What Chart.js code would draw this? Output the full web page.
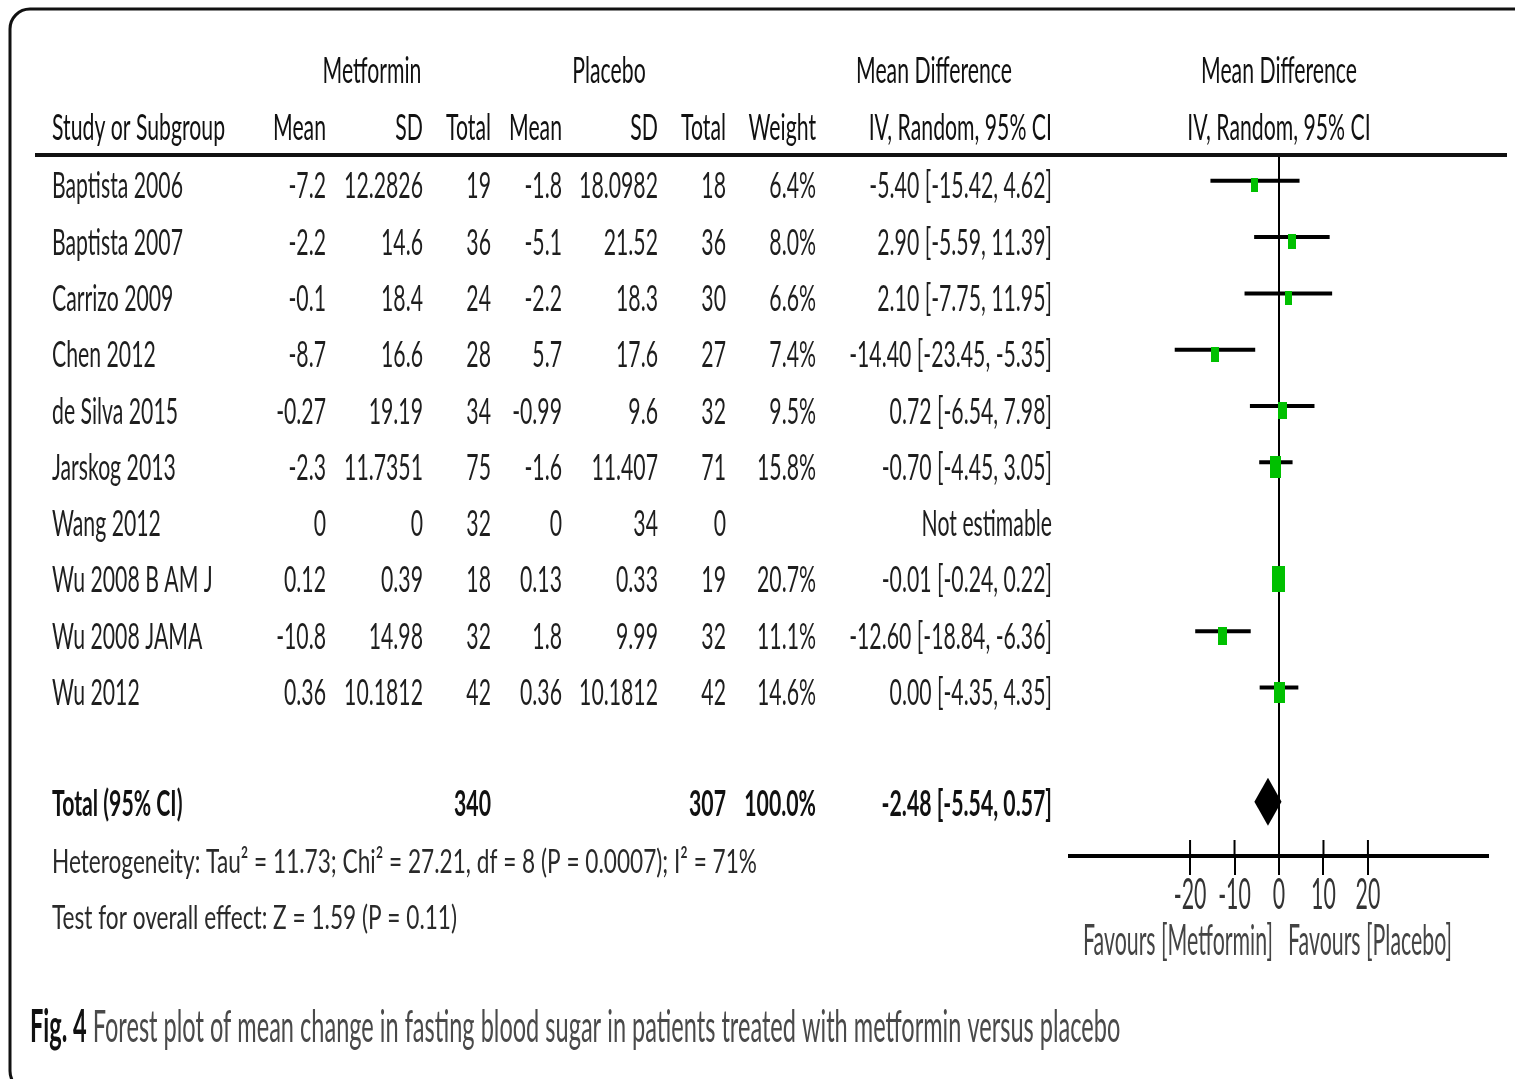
<!DOCTYPE html>
<html>
<head>
<meta charset="utf-8">
<title>Forest plot - fasting blood sugar</title>
<script src="https://cdn.jsdelivr.net/npm/chart.js@4.4.0/dist/chart.umd.min.js"></script>
<style>
  html, body { margin: 0; padding: 0; background: #fff; overflow: hidden; }
  canvas { display: block; }
</style>
</head>
<body>
<canvas id="forest" width="1515" height="1079"></canvas>
<script>
// study rows
const studies = ["Baptista 2006", "Baptista 2007", "Carrizo 2009", "Chen 2012", "de Silva 2015",
                 "Jarskog 2013", "Wang 2012", "Wu 2008 B AM J", "Wu 2008 JAMA", "Wu 2012"];
const metMean  = [-7.2, -2.2, -0.1, -8.7, -0.27, -2.3, 0, 0.12, -10.8, 0.36];
const metSD    = [12.2826, 14.6, 18.4, 16.6, 19.19, 11.7351, 0, 0.39, 14.98, 10.1812];
const metTotal = [19, 36, 24, 28, 34, 75, 32, 18, 32, 42];
const plaMean  = [-1.8, -5.1, -2.2, 5.7, -0.99, -1.6, 0, 0.13, 1.8, 0.36];
const plaSD    = [18.0982, 21.52, 18.3, 17.6, 9.6, 11.407, 34, 0.33, 9.99, 10.1812];
const plaTotal = [18, 36, 30, 27, 32, 71, 0, 19, 32, 42];
const weights  = [6.4, 8.0, 6.6, 7.4, 9.5, 15.8, null, 20.7, 11.1, 14.6];
const md       = [-5.40, 2.90, 2.10, -14.40, 0.72, -0.70, null, -0.01, -12.60, 0.00];
const ciLow    = [-15.42, -5.59, -7.75, -23.45, -6.54, -4.45, null, -0.24, -18.84, -4.35];
const ciHigh   = [4.62, 11.39, 11.95, -5.35, 7.98, 3.05, null, 0.22, -6.36, 4.35];

// pooled result
const totalLabel = "Total (95% CI)";
const totalMet = 340;
const totalPla = 307;
const totalWeight = 100.0;
const totalMD = -2.48;
const totalLow = -5.54;
const totalHigh = 0.57;
const totalRow = 11;

const tickValues = [-20, -10, 0, 10, 20];
const favoursLeft = "Favours [Metformin]";
const favoursRight = "Favours [Placebo]";
const heterogeneity = "Heterogeneity: Tau² = 11.73; Chi² = 27.21, df = 8 (P = 0.0007); I² = 71%";
const overallEffect = "Test for overall effect: Z = 1.59 (P = 0.11)";
const captionBold = "Fig. 4";
const captionText = "Forest plot of mean change in fasting blood sugar in patients treated with metformin versus placebo";

const FONT = "Lato, 'Open Sans', sans-serif";

// squeeze factor so text looks like the narrow original
function squeeze(ctx, size, weight, sample, target) {
    ctx.font = weight + " " + size + "px " + FONT;
    return target / ctx.measureText(sample).width;
}

function drawText(ctx, s, x, cy, align, size, weight, color, sx) {
    ctx.save();
    ctx.font = weight + " " + size + "px " + FONT;
    ctx.fillStyle = color;
    ctx.textAlign = "left";
    ctx.textBaseline = "alphabetic";
    const w = ctx.measureText(s).width * sx;
    let left = x;
    if (align === "right") left = x - w;
    if (align === "center") left = x - w / 2;
    ctx.translate(left, cy + size * 0.36);
    ctx.scale(sx, 1);
    ctx.fillText(s, 0, 0);
    ctx.restore();
    return w;
}

function makeSquare(weight) {
    const h = Math.round(9 + 0.8 * weight);
    const w = Math.round(h * 0.5);
    const c = document.createElement("canvas");
    c.width = w;
    c.height = h;
    const g = c.getContext("2d");
    g.fillStyle = "#00c000";
    g.fillRect(0, 0, w, h);
    return c;
}

const points = [];
studies.forEach((s, i) => {
    if (md[i] !== null) points.push({ x: md[i], y: i, w: weights[i] });
});
const squares = points.map(p => makeSquare(p.w));

const forestPlugin = {
    id: "forest",
    beforeDatasetsDraw(chart) {
        const ctx = chart.ctx;
        const xs = chart.scales.x, ys = chart.scales.y;
        ctx.save();
        ctx.strokeStyle = "#000";
        ctx.lineWidth = 4;
        studies.forEach((s, i) => {
            if (ciLow[i] === null) return;
            const y = ys.getPixelForValue(i) - 4.5;
            ctx.beginPath();
            ctx.moveTo(xs.getPixelForValue(ciLow[i]), y);
            ctx.lineTo(xs.getPixelForValue(ciHigh[i]), y);
            ctx.stroke();
        });
        // tick marks also reach above the axis line
        ctx.lineWidth = 2;
        const axisY = chart.chartArea.bottom;
        xs.ticks.forEach(t => {
            const x = xs.getPixelForValue(t.value);
            ctx.beginPath();
            ctx.moveTo(x, axisY - 16);
            ctx.lineTo(x, axisY);
            ctx.stroke();
        });
        ctx.restore();
    },
    afterDatasetsDraw(chart) {
        const ctx = chart.ctx;
        const xs = chart.scales.x, ys = chart.scales.y;
        const y = ys.getPixelForValue(totalRow) - 3;
        ctx.save();
        ctx.fillStyle = "#000";
        ctx.beginPath();
        ctx.moveTo(xs.getPixelForValue(totalLow), y);
        ctx.lineTo(xs.getPixelForValue(totalMD), y - 24);
        ctx.lineTo(xs.getPixelForValue(totalHigh), y);
        ctx.lineTo(xs.getPixelForValue(totalMD), y + 24);
        ctx.closePath();
        ctx.fill();
        ctx.restore();
    },
    afterDraw(chart) {
        const ctx = chart.ctx;
        const xs = chart.scales.x, ys = chart.scales.y;

        // frame
        ctx.save();
        ctx.strokeStyle = "#111";
        ctx.lineWidth = 3;
        ctx.beginPath();
        ctx.roundRect(10, 9, 1540, 1082, 20);
        ctx.stroke();
        // header rule
        ctx.lineWidth = 4;
        ctx.beginPath();
        ctx.moveTo(35, 155);
        ctx.lineTo(1507, 155);
        ctx.stroke();
        ctx.restore();

        const size = 36;
        const sx = squeeze(ctx, size, "normal", "Baptista 2006", 131);
        const dark = "#111", body = "#1e1e1e";

        // headers
        const h1 = 70, h2 = 127;
        drawText(ctx, "Metformin", 372, h1, "center", size, "normal", dark, sx);
        drawText(ctx, "Placebo", 609, h1, "center", size, "normal", dark, sx);
        drawText(ctx, "Mean Difference", 934, h1, "center", size, "normal", dark, sx);
        drawText(ctx, "Mean Difference", 1279, h1, "center", size, "normal", dark, sx);
        drawText(ctx, "Study or Subgroup", 52, h2, "left", size, "normal", dark, sx);
        drawText(ctx, "Mean", 326, h2, "right", size, "normal", dark, sx);
        drawText(ctx, "SD", 423, h2, "right", size, "normal", dark, sx);
        drawText(ctx, "Total", 491, h2, "right", size, "normal", dark, sx);
        drawText(ctx, "Mean", 562, h2, "right", size, "normal", dark, sx);
        drawText(ctx, "SD", 658, h2, "right", size, "normal", dark, sx);
        drawText(ctx, "Total", 726, h2, "right", size, "normal", dark, sx);
        drawText(ctx, "Weight", 816, h2, "right", size, "normal", dark, sx);
        drawText(ctx, "IV, Random, 95% CI", 1052, h2, "right", size, "normal", dark, sx);
        drawText(ctx, "IV, Random, 95% CI", 1279, h2, "center", size, "normal", dark, sx);

        // study rows
        studies.forEach((s, i) => {
            const y = ys.getPixelForValue(i);
            drawText(ctx, s, 52, y, "left", size, "normal", body, sx);
            drawText(ctx, String(metMean[i]), 326, y, "right", size, "normal", body, sx);
            drawText(ctx, String(metSD[i]), 423, y, "right", size, "normal", body, sx);
            drawText(ctx, String(metTotal[i]), 491, y, "right", size, "normal", body, sx);
            drawText(ctx, String(plaMean[i]), 562, y, "right", size, "normal", body, sx);
            drawText(ctx, String(plaSD[i]), 658, y, "right", size, "normal", body, sx);
            drawText(ctx, String(plaTotal[i]), 726, y, "right", size, "normal", body, sx);
            if (weights[i] !== null) {
                drawText(ctx, weights[i].toFixed(1) + "%", 816, y, "right", size, "normal", body, sx);
                const ci = md[i].toFixed(2) + " [" + ciLow[i].toFixed(2) + ", " + ciHigh[i].toFixed(2) + "]";
                drawText(ctx, ci, 1052, y, "right", size, "normal", body, sx);
            } else {
                drawText(ctx, "Not estimable", 1052, y, "right", size, "normal", body, sx);
            }
        });

        // total row
        const ty = ys.getPixelForValue(totalRow) - 2;
        drawText(ctx, totalLabel, 52, ty, "left", size, "bold", dark, sx);
        drawText(ctx, String(totalMet), 491, ty, "right", size, "bold", dark, sx);
        drawText(ctx, String(totalPla), 726, ty, "right", size, "bold", dark, sx);
        drawText(ctx, totalWeight.toFixed(1) + "%", 816, ty, "right", size, "bold", dark, sx);
        drawText(ctx, totalMD.toFixed(2) + " [" + totalLow.toFixed(2) + ", " + totalHigh.toFixed(2) + "]",
                 1052, ty, "right", size, "bold", dark, sx);

        // heterogeneity notes
        const hs = 33;
        const hsx = squeeze(ctx, hs, "normal", heterogeneity, 705);
        drawText(ctx, heterogeneity, 52, 861, "left", hs, "normal", "#2a2a2a", hsx);
        drawText(ctx, overallEffect, 52, 917, "left", hs, "normal", "#2a2a2a", hsx);

        // axis labels
        const as = 43;
        const asx = squeeze(ctx, as, "normal", favoursLeft, 190);
        xs.ticks.forEach(t => {
            drawText(ctx, String(t.value), xs.getPixelForValue(t.value), 894, "center", as, "normal", "#333", asx);
        });
        drawText(ctx, favoursLeft, 1273, 940, "right", as, "normal", "#444", asx);
        drawText(ctx, favoursRight, 1288, 940, "left", as, "normal", "#444", asx);

        // caption
        const cs = 45;
        const csx = squeeze(ctx, cs, "normal", captionBold + " " + captionText, 1090);
        const bw = drawText(ctx, captionBold, 30, 1026, "left", cs, "bold", "#111", csx);
        drawText(ctx, captionText, 30 + bw + 6, 1026, "left", cs, "normal", "#4a4a4a", csx);
    }
};

new Chart(document.getElementById("forest"), {
    type: "scatter",
    data: {
        datasets: [{
            data: points,
            pointStyle: c => squares[c.dataIndex],
            backgroundColor: "#00c000",
            borderWidth: 0
        }]
    },
    options: {
        responsive: false,
        animation: false,
        layout: { padding: { left: 1070, right: 27, top: 156, bottom: 204 } },
        plugins: { legend: { display: false }, tooltip: { enabled: false } },
        scales: {
            x: {
                type: "linear",
                min: -47,
                max: 47,
                afterBuildTicks: s => { s.ticks = tickValues.map(v => ({ value: v })); },
                border: { display: true, color: "#000", width: 4 },
                grid: {
                    drawOnChartArea: true,
                    color: c => (c.tick && c.tick.value === 0) ? "#000" : "rgba(0,0,0,0)",
                    lineWidth: 2,
                    tickColor: "#000",
                    tickWidth: 2,
                    tickLength: 19
                },
                ticks: { display: false }
            },
            y: { type: "linear", min: -0.52, max: 11.91, reverse: true, display: false }
        }
    },
    plugins: [forestPlugin]
});
</script>
</body>
</html>
